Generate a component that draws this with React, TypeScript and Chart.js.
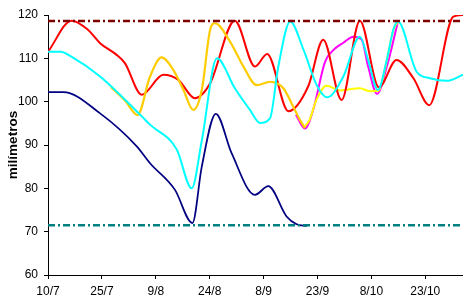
import React, { useEffect, useRef } from "react";
import { Chart, registerables } from "chart.js";

Chart.register(...registerables);

// x values are days counted from 10/7
const tickDays = [0, 15, 30, 45, 60, 75, 90, 105];
const tickLabels = ["10/7", "25/7", "9/8", "24/8", "8/9", "23/9", "8/10", "23/10"];
const yTicks = [60, 70, 80, 90, 100, 110, 120];

const redDays = [0, 6.6, 11.1, 14.5, 19.1, 21.4, 26.1, 32.1, 36.3, 40.9, 45.1, 52.0, 57.6, 61.0, 66.9, 72.4, 76.6, 81.7, 86.8, 92.1, 97.0, 101.7, 106.1, 112.8, 115.5];
const redValues = [111.5, 118.7, 116.6, 113.5, 110.8, 108.9, 101.6, 106.2, 105.0, 100.8, 104.2, 118.7, 108.1, 111.0, 97.8, 103.5, 114.3, 100.4, 118.7, 103.3, 109.6, 105.4, 99.2, 119.6, 120.0];

const cyanDays = [0, 3.5, 6.5, 14.5, 26.1, 28.4, 35.8, 40.0, 42.8, 47.0, 52.0, 56.2, 59.0, 61.8, 64.1, 67.4, 71.1, 74.8, 77.7, 82.2, 86.8, 89.1, 91.8, 94.3, 96.1, 97.4, 102.6, 106.3, 111.0, 115.5];
const cyanValues = [111.5, 111.5, 110.4, 105.8, 96.6, 94.7, 89.0, 80.0, 91.0, 110.0, 103.1, 98.1, 95.1, 96.2, 108.1, 118.5, 112.0, 103.8, 101.0, 105.8, 115.0, 109.6, 102.7, 109.7, 116.6, 118.5, 106.9, 105.4, 104.8, 106.2];

const navyDays = [0, 4.3, 14.5, 24.7, 28.4, 35.3, 40.2, 42.8, 46.7, 51.1, 57.6, 61.3, 66.4, 69.2, 72.0];
const navyValues = [102.2, 102.2, 97.3, 89.7, 85.8, 79.7, 72.0, 85.0, 97.2, 88.1, 78.5, 80.5, 73.5, 71.7, 71.3];

const goldDays = [17.5, 21.5, 24.9, 28.4, 31.6, 34.9, 37.7, 40.4, 42.8, 45.1, 46.5, 50.7, 54.4, 58.1, 61.8, 65.5, 67.8, 70.1, 71.5];
const goldValues = [103.4, 100.2, 96.9, 105.8, 110.2, 107.3, 102.7, 98.1, 102.7, 116.5, 118.1, 113.8, 108.1, 103.8, 104.6, 103.1, 99.6, 95.8, 93.9];

const magentaDays = [69.0, 71.5, 73.8, 77.1, 79.4, 82.2, 85.0, 87.3, 89.1, 91.6, 94.3, 97.4];
const magentaValues = [97.0, 93.8, 98.1, 109.2, 111.9, 113.6, 115.0, 114.3, 108.1, 101.8, 108.1, 118.5];

const yellowDays = [71.2, 72.8, 74.7, 77.5, 81.3, 86.8, 89.6, 92.0, 94.3, 96.1, 97.4];
const yellowValues = [94.0, 95.8, 100.4, 103.7, 102.6, 103.1, 102.4, 102.5, 109.5, 116.5, 118.5];

const refDays = [0, 115.5];
const highLevel = 118.6;
const lowLevel = 71.5;

const X_MAX = 115.5;

function pts(days: number[], vals: number[]) {
  return days.map((d, i) => ({ x: d, y: vals[i] }));
}

const FONT = '"Liberation Sans", Arial, Helvetica, sans-serif';

export default function App() {
  const ref = useRef<HTMLCanvasElement | null>(null);

  useEffect(() => {
    document.body.style.margin = "0";
    const canvas = ref.current;
    if (!canvas) return;

    const line = (label: string, data: any[], color: string, width: number, order: number) => ({
      label,
      data,
      borderColor: color,
      backgroundColor: color,
      borderWidth: width,
      pointRadius: 0,
      fill: false,
      cubicInterpolationMode: "monotone" as const,
      order,
    });

    const chart = new Chart(canvas, {
      type: "line",
      data: {
        datasets: [
          {
            label: "máximo",
            data: pts(refDays, refDays.map(() => highLevel)),
            borderColor: "#800000",
            borderWidth: 2.5,
            borderDash: [7, 3, 2, 3],
            pointRadius: 0,
            fill: false,
            order: 0,
          },
          {
            label: "mínimo",
            data: pts(refDays, refDays.map(() => lowLevel)),
            borderColor: "#008080",
            borderWidth: 2.5,
            borderDash: [7, 3, 2, 3],
            pointRadius: 0,
            fill: false,
            order: 0,
          },
          line("cyan", pts(cyanDays, cyanValues), "#00FFFF", 2, 1),
          line("gold", pts(goldDays, goldValues), "#FFCC00", 2.2, 2),
          line("red", pts(redDays, redValues), "#FF0000", 2, 3),
          line("yellow", pts(yellowDays, yellowValues), "#FFFF00", 2, 4),
          line("magenta", pts(magentaDays, magentaValues), "#FF00FF", 2, 5),
          line("navy", pts(navyDays, navyValues), "#000080", 1.75, 6),
        ],
      },
      options: {
        animation: false,
        responsive: false,
        devicePixelRatio: 1,
        layout: { padding: { top: 15, right: 0, bottom: 0, left: 0 } },
        plugins: {
          legend: { display: false },
          tooltip: { enabled: false },
        },
        scales: {
          x: {
            type: "linear",
            min: 0,
            max: X_MAX,
            afterBuildTicks: (s: any) => {
              s.ticks = tickDays.map((v) => ({ value: v }));
            },
            afterFit: (s: any) => {
              s.height = 25;
            },
            grid: { drawOnChartArea: false, drawTicks: true, tickLength: 4, tickColor: "#000" },
            border: { display: true, color: "#000", width: 1 },
            ticks: {
              padding: 5,
              color: "#000",
              maxRotation: 0,
              autoSkip: false,
              font: { family: FONT, size: 12 },
              callback: (v: any) => {
                const i = tickDays.indexOf(Number(v));
                return i >= 0 ? tickLabels[i] : "";
              },
            },
          },
          y: {
            type: "linear",
            min: 60,
            max: 120,
            afterBuildTicks: (s: any) => {
              s.ticks = yTicks.map((v) => ({ value: v }));
            },
            afterFit: (s: any) => {
              s.width = 48;
            },
            grid: { drawOnChartArea: false, drawTicks: true, tickLength: 4, tickColor: "#000" },
            border: { display: true, color: "#000", width: 1 },
            ticks: {
              padding: 6,
              color: "#000",
              font: { family: FONT, size: 12 },
            },
            title: {
              display: true,
              text: "milímetros",
              color: "#000",
              font: { family: FONT, size: 13.5, weight: "bold" },
              padding: { top: 5.5, bottom: 0 },
            },
          },
        },
      },
    } as any);

    return () => chart.destroy();
  }, []);

  return (
    <div style={{ width: 463, height: 300, position: "relative" }}>
      <canvas ref={ref} width={463} height={300} style={{ display: "block" }} />
    </div>
  );
}
